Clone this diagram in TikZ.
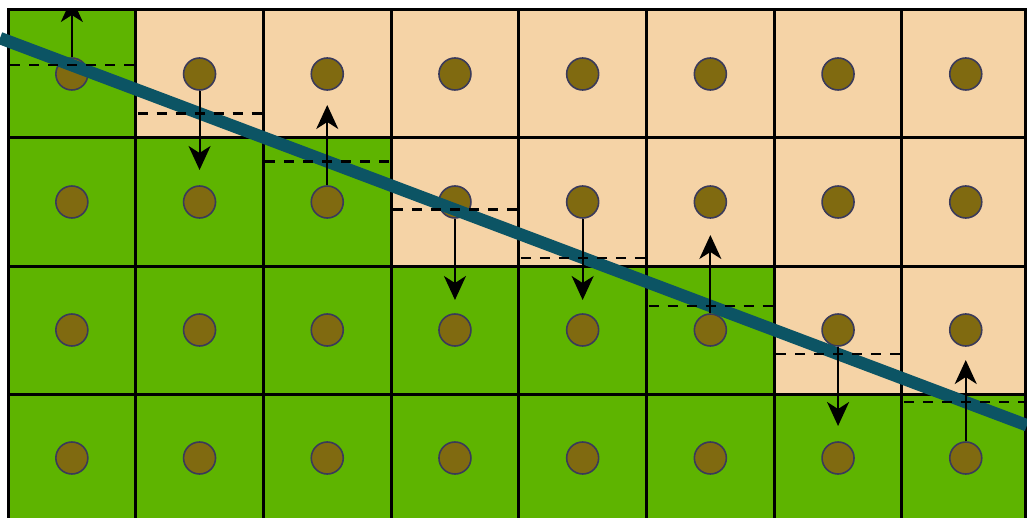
\documentclass[tikz,border=0pt]{standalone}
\usetikzlibrary{arrows.meta}
\definecolor{grn}{HTML}{5EB400}
\definecolor{pch}{HTML}{F5D3A6}
\definecolor{dotfill}{HTML}{806A10}
\definecolor{dotline}{HTML}{3A3A5A}
\definecolor{tealline}{HTML}{0C5464}
\begin{document}
\begin{tikzpicture}[x=0.5pt,y=-0.5pt,
  gridline/.style={line width=1.5pt,black},
  dotnode/.style={circle,fill=dotfill,draw=dotline,line width=0.8pt,minimum size=16pt,inner sep=0pt},
  sepline/.style={line width=6.2pt,tealline},
  levelline/.style={line width=1.2pt,black,dash pattern=on 5pt off 4.5pt},
  arr/.style={line width=1pt,black,-{Stealth[length=12pt,width=11pt,inset=3.5pt]}}]
\useasboundingbox (0,0) rectangle (1027,518);
\fill[white] (0,0) rectangle (1027,518);
\clip (0,0) rectangle (1027,518);
% cells
\begin{scope}
\clip (8,10) rectangle (1025,522);
\fill[grn] (8,10) rectangle (1025,522);
\foreach \i/\t in {0/0,1/1,2/1,3/2,4/2,5/2,6/3,7/3}{
  \ifnum\t>0
    \fill[pch] ({8+127.7*\i},10) rectangle ({8+127.7*(\i+1)},{10+128*\t});
  \fi
}
\end{scope}
% grid
\foreach \i in {1,...,7} \draw[gridline] ({8+127.7*\i},10) -- ({8+127.7*\i},522);
\foreach \j in {138,266,394} \draw[gridline] (8,\j) -- (1025,\j);
\draw[gridline] (8,10) rectangle (1025,522);
% dots
\foreach \i in {0,...,7}
  \foreach \j in {0,...,3}
    \node[dotnode] (c-\i-\j) at ({71.85+127.7*\i},{74+128*\j}) {};
% separating line
\coordinate (L1) at (0,38.1);
\coordinate (L2) at (1027,425.3);
\draw[sepline] (L1) -- (L2);
% dashed level lines
\foreach \i in {0,...,7}
  \draw[levelline] ({10+127.7*\i},{40+0.377*(71.85+127.7*\i-5)}) -- ({min(8+127.7*(\i+1),1025)},{40+0.377*(71.85+127.7*\i-5)});
% arrows
\begin{scope}
\clip (0,9) rectangle (1027,518);
\foreach \i/\j/\d in {0/0/-76,1/0/96,2/1/-97,3/1/98,4/1/98,5/2/-95,6/2/96,7/3/-98}{
  \path (c-\i-\j) ++(0,\d) coordinate (t-\i);
  \draw[arr] (c-\i-\j) -- (t-\i);
}
\end{scope}
\end{tikzpicture}
\end{document}
